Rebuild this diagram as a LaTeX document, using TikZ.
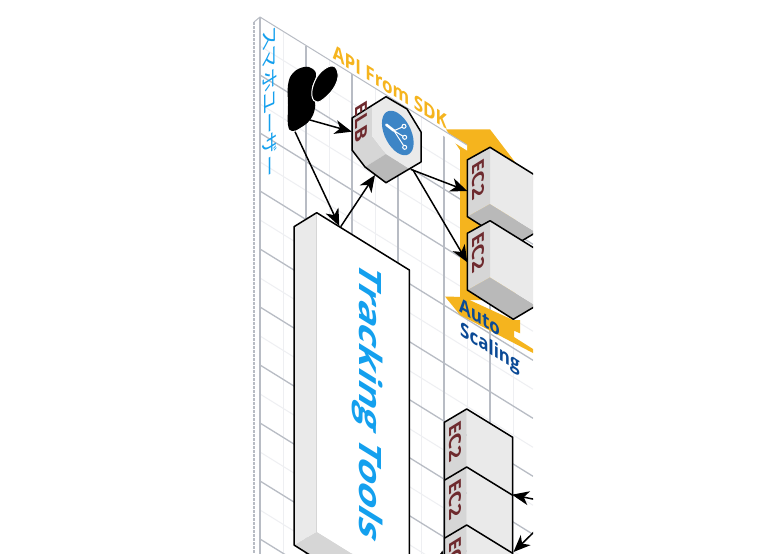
\documentclass[tikz,border=0pt]{standalone}
\usepackage{fontspec}
\setmainfont{Open Sans}
\newfontfamily\jpfont{Noto Sans CJK JP}
\usetikzlibrary{arrows.meta}
\definecolor{gmajor}{HTML}{B8BCC4}
\definecolor{gminor}{HTML}{EEEFF2}
\definecolor{orng}{HTML}{F5B41E}
\definecolor{sblue}{HTML}{14A0EE}
\definecolor{dblue}{HTML}{0B4A96}
\definecolor{ecred}{HTML}{6E2A2E}
\definecolor{fface}{HTML}{EAEAEA}
\definecolor{lface}{HTML}{D6D6D6}
\definecolor{bface}{HTML}{B9B9B9}
\definecolor{icblue}{HTML}{3D85C6}
\tikzset{
  majorline/.style={draw=gmajor,line width=1.3pt},
  minorline/.style={draw=gminor,line width=1pt},
  boxedge/.style={draw=black,line width=1.5pt,line join=round},
  conn/.style={draw=black,line width=1.5pt,-{Stealth[length=17pt,width=14pt,inset=5pt]}},
  onleft/.style={cm={0,-1,.79,.49,(0,0)},inner sep=0pt},
  onfront/.style={cm={0,-1,.79,-.49,(0,0)},inner sep=0pt},
  ontop/.style={cm={.85,-.527,0,1,(0,0)},inner sep=0pt},
  ectext/.style={onleft,text=ecred,font=\fontsize{21}{21}\selectfont\bfseries},
}
\begin{document}
\begin{tikzpicture}[x=1pt,y=-1pt]
\useasboundingbox (0,0) rectangle (779,554);
\begin{scope}
\clip (250,0) rectangle (533,554);
% plane
\fill[white] (254,22) -- (260,17) -- (533,186) -- (533,554) -- (254,554) -- cycle;
\draw[draw=gmajor,line width=1.2pt,dash pattern=on 3pt off 1pt] (254,22) -- (254,554);
\draw[draw=gmajor,line width=1pt] (254,22) -- (260,17);
% minor grid
\foreach \x in {283,329,375,421,467,513} {
  \pgfmathsetmacro{\yy}{17+(\x-260)*.62}
  \draw[minorline] (\x,\yy) -- (\x,554);
}
\foreach \n in {0,...,9} {
  \pgfmathsetmacro{\yy}{46+58*\n}
  \draw[minorline] (260,\yy) -- (533,\yy+169.3);
}
% major grid
\foreach \x in {306,352,398,444,490} {
  \pgfmathsetmacro{\yy}{17+(\x-260)*.62}
  \draw[majorline] (\x,\yy) -- (\x,554);
}
\draw[majorline] (260,17) -- (260,554);
\foreach \n in {1,...,9} {
  \pgfmathsetmacro{\yy}{17+58*\n}
  \draw[majorline] (260,\yy) -- (533,\yy+169.3);
}
% orange banners
\fill[orng] (446,129.3) -- (490,129.3) -- (516,163.3) -- (516,300) -- (460,300) -- (460,150) -- cycle;
\fill[orng] (445,296.5) -- (463,297) -- (513,320) -- (520,320) -- (520,333.3) -- (514,330.7) -- (514,337) -- (533,349) -- (533,353) -- (460,315) -- cycle;
% top edge of the plane
\fill[white] (430,122) -- (467,145) -- (467,150.5) -- (430,127.5) -- cycle;
\draw[draw=gmajor,line width=1pt] (260,17) -- (467,145);
% Tracking box
\fill[lface] (294,545) -- (316.7,531.7) -- (409.3,589) -- (386,603) -- cycle;
\fill[fface] (294,226.7) -- (316.7,212.7) -- (316.7,531.7) -- (294,545) -- cycle;
\fill[white] (316.7,212.7) -- (409.3,270) -- (409.3,589) -- (316.7,531.7) -- cycle;
\draw[draw=lface,line width=1pt] (316.7,212.7) -- (316.7,531.7);
\draw[boxedge] (294,545) -- (294,226.7) -- (316.7,212.7) -- (409.3,270) -- (409.3,589) -- (386,603) -- cycle;
\node[onfront,text=sblue,font=\fontsize{39}{39}\selectfont\bfseries] (tracking) at (367,402) {Tracking Tools};
% EC2 boxes of the auto scaling group
\foreach \d/\nm in {0/one,73.4/two} {
  \fill[bface] (467.3,216.6+\d) -- (490,203.9+\d) -- (536,232.4+\d) -- (513.3,245.9+\d) -- cycle;
  \fill[fface] (490,147.3+\d) -- (536,175.8+\d) -- (536,232.4+\d) -- (490,203.9+\d) -- cycle;
  \fill[lface] (467.3,159.9+\d) -- (490,147.3+\d) -- (490,203.9+\d) -- (467.3,216.6+\d) -- cycle;
  \draw[boxedge] (467.3,216.6+\d) -- (467.3,159.9+\d) -- (490,147.3+\d) -- (536,175.8+\d) -- (536,232.4+\d) -- (513.3,245.9+\d) -- cycle;
}
\node[ectext] (ecA) at (478.5,179) {EC2};
\node[ectext] (ecB) at (478.5,252) {EC2};
% lower EC2 stack
\foreach \d in {0,58,116} {
  \fill[fface] (466.7,409+\d) -- (512.7,437.3+\d) -- (512.7,495+\d) -- (466.7,467+\d) -- cycle;
  \fill[lface] (444.3,422.3+\d) -- (466.7,409+\d) -- (466.7,467+\d) -- (444.3,480+\d) -- cycle;
  \draw[boxedge] (444.3,480+\d) -- (444.3,422.3+\d) -- (466.7,409+\d) -- (512.7,437.3+\d) -- (512.7,495+\d);
}
\node[ectext] (ecC) at (455,441) {EC2};
\node[ectext] (ecD) at (455,499) {EC2};
\node[ectext] (ecE) at (455,557) {EC2};
% ELB
\fill[lface] (352,118) -- (372,105.5) -- (372,136) -- (386,154) -- (365,167) -- (352,150) -- cycle;
\fill[bface] (365,167) -- (386,154) -- (409,168.5) -- (386,182.7) -- cycle;
\fill[fface] (386,96.7) -- (407,109) -- (421,132) -- (421,162) -- (409,168.5) -- (386,154) -- (372,136) -- (372,105.5) -- cycle;
\draw[boxedge] (352,118) -- (386,96.7) -- (407,109) -- (421,132) -- (421,162) -- (386,182.7) -- (365,167) -- (352,150) -- cycle;
\fill[icblue,cm={.793,-.49,0,1,(397.8,133)}] (0,0) circle[radius=20];
\draw[white,line width=2.6pt,line cap=round] (386.3,124.7) -- (394,130.7);
\draw[white,line width=1pt] (394,130.7) -- (404,126.3) (394,130.7) -- (404.7,137.3) (394,130.7) -- (404.7,147.3);
\draw[white,line width=1pt,fill=icblue] (404,126.3) circle[radius=2] (404.7,137.3) circle[radius=2] (404.7,147.3) circle[radius=2];
\node[ectext] (elbtext) at (361,122) {ELB};
% user
\fill[black] plot[smooth cycle,tension=.7] coordinates {(288,85) (293,73) (304,67) (313,69) (316,76) (312,88) (314,98) (315,108) (310,120) (300,128) (292,131) (288,125) (288,105)};
\fill[black,draw=white,line width=1pt] plot[smooth cycle,tension=.7] coordinates {(333,66) (338,74) (335,86) (326,97) (317,102) (312,96) (314,83) (322,71)};
% texts
\node[onleft,text=sblue,font=\jpfont\fontsize{21.5}{21.5}\selectfont] (smau) at (270,102) {スマホユーザー};
\node[ontop,text=orng,font=\fontsize{20}{20}\selectfont\bfseries] (api) at (390,87) {API From SDK};
\node[ontop,text=dblue,font=\fontsize{20}{20}\selectfont\bfseries] (auto) at (479.5,317) {Auto};
\node[ontop,text=dblue,font=\fontsize{20}{20}\selectfont\bfseries] (scaling) at (490,349) {Scaling};
% connector ends
\coordinate (userR) at (310,120);
\coordinate (userB) at (295,131.7);
\coordinate (elbL) at (351.7,131.7);
\coordinate (elbB) at (375,175);
\coordinate (elbR1) at (410.7,169.3);
\coordinate (elbR2) at (413,170);
\coordinate (trkT) at (339.3,226);
\coordinate (trkT2) at (340.7,226.7);
\coordinate (ecAL) at (467.3,191);
\coordinate (ecBL) at (467.3,262.3);
\coordinate (offA) at (540,500.5);
\coordinate (ecDR) at (512,494.7);
\coordinate (offB) at (540,526);
\coordinate (ecER) at (513.5,552);
\coordinate (offC) at (436,580);
\coordinate (ecEL) at (442.5,550.5);
\draw[conn] (userR) -- (elbL);
\draw[conn] (userB) -- (trkT);
\draw[conn] (trkT2) -- (elbB);
\draw[conn] (elbR1) -- (ecAL);
\draw[conn] (elbR2) -- (ecBL);
\draw[conn] (offA) -- (ecDR);
\draw[conn] (offB) -- (ecER);
\draw[conn] (offC) -- (ecEL);
\end{scope}
\end{tikzpicture}
\end{document}
